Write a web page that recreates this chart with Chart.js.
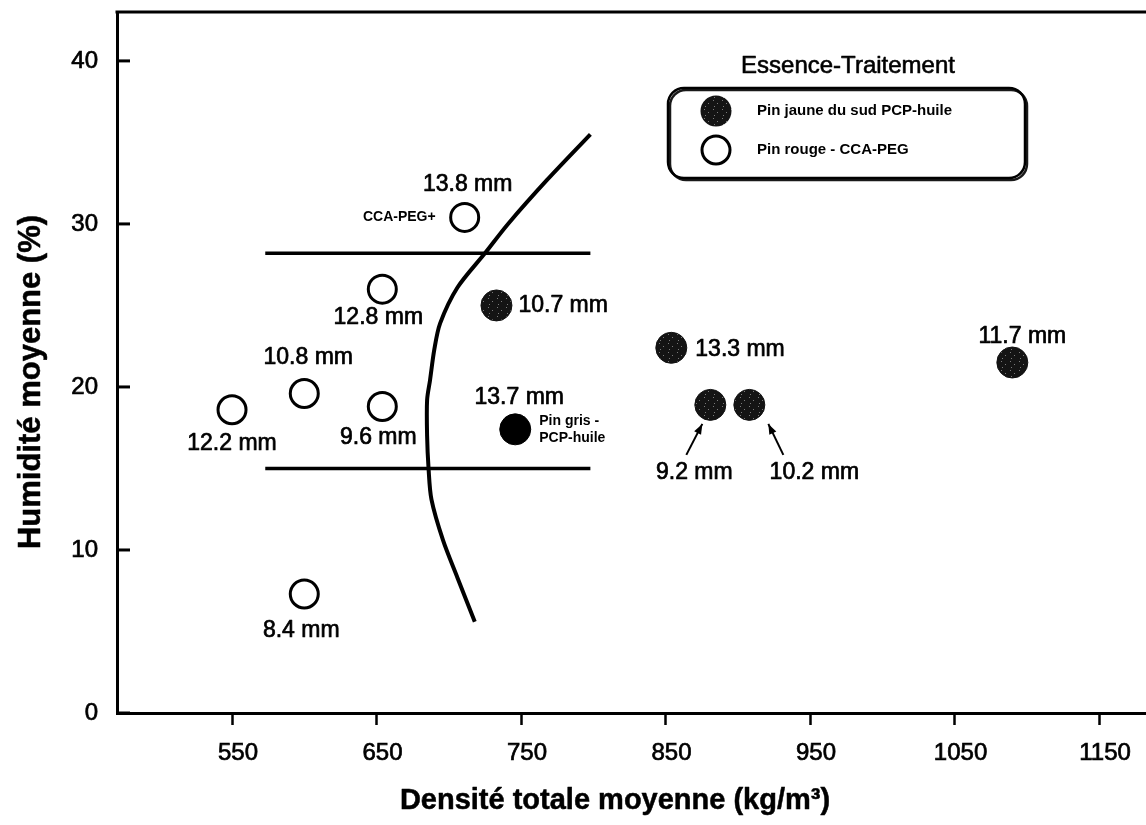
<!DOCTYPE html>
<html>
<head>
<meta charset="utf-8">
<script src="https://cdn.jsdelivr.net/npm/chart.js@4.4.1/dist/chart.umd.min.js"></script>
<style>
  html, body { margin: 0; padding: 0; background: #fff; }
  #wrap { width: 1146px; height: 825px; position: relative; }
</style>
</head>
<body>
<div id="wrap"><canvas id="graphique" width="1146" height="825"></canvas></div>
<script>
const FONT = '"Liberation Sans", Arial, Helvetica, sans-serif';

// Pin rouge - CCA-PEG : densité totale moyenne (kg/m³), humidité moyenne (%), diamètre
const pinRougeDensite  = [550, 600, 654, 654, 711, 600];
const pinRougeHumidite = [18.6, 19.6, 18.8, 26.0, 30.4, 7.3];
const pinRougeDiametre = ['12.2 mm', '10.8 mm', '9.6 mm', '12.8 mm', '13.8 mm', '8.4 mm'];

// Pin jaune du sud PCP-huile
const pinJauneDensite  = [733, 854, 881, 908, 1090];
const pinJauneHumidite = [25.0, 22.4, 18.9, 18.9, 21.5];
const pinJauneDiametre = ['10.7 mm', '13.3 mm', '9.2 mm', '10.2 mm', '11.7 mm'];

// Pin gris - PCP-huile
const pinGrisDensite  = [746];
const pinGrisHumidite = [17.4];
const pinGrisDiametre = ['13.7 mm'];

// Frontière courbe (de haut en bas)
const courbeDensite  = [798, 768, 741, 725, 706, 694, 690, 687, 685, 685, 686, 688, 696, 706, 718];
const courbeHumidite = [35.5, 32.7, 30.0, 28.2, 26.1, 23.9, 22.3, 20.4, 19.2, 17.0, 15.0, 13.1, 10.6, 8.3, 5.6];

// Seuils horizontaux d'humidité
const seuilDensite  = [573, 798];
const seuilHumidite = [28.2, 15.0];

const xTicks = [550, 650, 750, 850, 950, 1050, 1150];
const yTicks = [0, 10, 20, 30, 40];

// Placement des étiquettes (décalages en pixels par rapport au point)
const placeRouge = [
  { dx: 0,  dy: 34,  align: 'center' },
  { dx: 4,  dy: -36, align: 'center' },
  { dx: -4, dy: 31,  align: 'center' },
  { dx: -4, dy: 29,  align: 'center' },
  { dx: 3,  dy: -33, align: 'center' },
  { dx: -3, dy: 37,  align: 'center' }
];
const placeJaune = [
  { dx: 22,  dy: 0,  align: 'left' },
  { dx: 24,  dy: 2,  align: 'left' },
  { dx: -16, dy: 68, align: 'center', fleche: [-24, 50, -8, 19] },
  { dx: 65,  dy: 68, align: 'center', fleche: [34, 50, 19, 19] },
  { dx: 10,  dy: -26, align: 'center' }
];
const placeGris = [{ dx: 4, dy: -32, align: 'center' }];

const pts = (xs, ys) => xs.map((x, i) => ({ x: x, y: ys[i] }));

// Remplissage tacheté des cercles pleins
function motifTachete(ctx) {
  const c = document.createElement('canvas');
  c.width = 9; c.height = 9;
  const g = c.getContext('2d');
  g.fillStyle = '#141414';
  g.fillRect(0, 0, 9, 9);
  g.fillStyle = '#7a7a7a';
  g.fillRect(2, 1, 1, 1);
  g.fillRect(6, 4, 1, 1);
  g.fillRect(3, 7, 1, 1);
  return ctx.createPattern(c, 'repeat');
}

const canvas = document.getElementById('graphique');
const ctx = canvas.getContext('2d');
const tachete = motifTachete(ctx);

Chart.defaults.font.family = FONT;
Chart.defaults.color = '#000';

// texte légèrement épaissi
function texte(c, s, x, y, trait) {
  c.fillText(s, x, y);
  if (trait) {
    c.lineWidth = trait;
    c.strokeText(s, x, y);
  }
}

const decor = {
  id: 'decor',
  afterDraw(chart) {
    const c = chart.ctx;
    const a = chart.chartArea;
    const ys = chart.scales.y;
    c.save();
    c.strokeStyle = '#000';
    c.fillStyle = '#000';
    c.lineJoin = 'round';
    // bord supérieur
    c.lineWidth = 3;
    c.beginPath();
    c.moveTo(a.left - 1.5, a.top);
    c.lineTo(chart.width, a.top);
    c.stroke();
    // graduations de l'axe des y (vers l'intérieur)
    c.lineWidth = 3;
    yTicks.forEach(v => {
      const p = ys.getPixelForValue(v);
      c.beginPath();
      c.moveTo(a.left, p);
      c.lineTo(a.left + 13, p);
      c.stroke();
    });

    // étiquettes des diamètres
    const etiquettes = (idx, textes, places) => {
      const meta = chart.getDatasetMeta(idx);
      meta.data.forEach((el, i) => {
        const pl = places[i];
        c.font = '23px ' + FONT;
        c.textAlign = pl.align;
        c.textBaseline = 'middle';
        texte(c, textes[i], el.x + pl.dx, el.y + pl.dy, 0.7);
        if (pl.fleche) {
          const [x0, y0, x1, y1] = pl.fleche;
          const sx = el.x + x0, sy = el.y + y0, ex = el.x + x1, ey = el.y + y1;
          c.lineWidth = 2;
          c.beginPath();
          c.moveTo(sx, sy);
          c.lineTo(ex, ey);
          c.stroke();
          const ang = Math.atan2(ey - sy, ex - sx);
          const L = 11, w = 0.36;
          c.beginPath();
          c.moveTo(ex, ey);
          c.lineTo(ex - L * Math.cos(ang - w), ey - L * Math.sin(ang - w));
          c.lineTo(ex - L * Math.cos(ang + w), ey - L * Math.sin(ang + w));
          c.closePath();
          c.fill();
        }
      });
    };
    etiquettes(0, pinRougeDiametre, placeRouge);
    etiquettes(1, pinJauneDiametre, placeJaune);
    etiquettes(2, pinGrisDiametre, placeGris);

    // mentions en petits caractères gras
    c.font = 'bold 14px ' + FONT;
    c.textBaseline = 'middle';
    const plus = chart.getDatasetMeta(0).data[4];
    c.textAlign = 'right';
    c.fillText('CCA-PEG+', plus.x - 29, plus.y);
    const gris = chart.getDatasetMeta(2).data[0];
    c.textAlign = 'left';
    c.fillText('Pin gris -', gris.x + 24, gris.y - 8);
    c.fillText('PCP-huile', gris.x + 24, gris.y + 9);

    // légende
    c.font = '24px ' + FONT;
    c.textAlign = 'center';
    texte(c, 'Essence-Traitement', 848, 66, 0.6);
    c.save();
    c.shadowColor = 'rgba(0,0,0,0.9)';
    c.shadowOffsetX = 2;
    c.shadowOffsetY = 2;
    c.shadowBlur = 0;
    c.lineWidth = 2.5;
    c.beginPath();
    c.roundRect(668, 88, 357, 90, 16);
    c.stroke();
    c.restore();
    c.beginPath();
    c.arc(716, 111, 15.5, 0, Math.PI * 2);
    c.fillStyle = tachete;
    c.fill();
    c.fillStyle = '#000';
    c.lineWidth = 3;
    c.beginPath();
    c.arc(716, 150, 14, 0, Math.PI * 2);
    c.stroke();
    c.font = 'bold 15px ' + FONT;
    c.textAlign = 'left';
    c.fillText('Pin jaune du sud PCP-huile', 757, 111);
    c.fillText('Pin rouge - CCA-PEG', 757, 150);

    // titres des axes
    c.font = 'bold 29px ' + FONT;
    c.textAlign = 'center';
    texte(c, 'Densité totale moyenne (kg/m³)', 615, 801, 0.5);
    c.save();
    c.font = 'bold 31px ' + FONT;
    c.translate(31, 382);
    c.rotate(-Math.PI / 2);
    texte(c, 'Humidité moyenne (%)', 0, 0, 0.5);
    c.restore();
    c.restore();
  }
};

new Chart(ctx, {
  type: 'scatter',
  data: {
    datasets: [
      {
        label: 'Pin rouge - CCA-PEG',
        data: pts(pinRougeDensite, pinRougeHumidite),
        pointRadius: 14,
        pointBorderWidth: 3,
        borderColor: '#000',
        backgroundColor: '#fff'
      },
      {
        label: 'Pin jaune du sud PCP-huile',
        data: pts(pinJauneDensite, pinJauneHumidite),
        pointRadius: 15.5,
        pointBorderWidth: 1,
        borderColor: '#111',
        backgroundColor: tachete
      },
      {
        label: 'Pin gris - PCP-huile',
        data: pts(pinGrisDensite, pinGrisHumidite),
        pointRadius: 15.5,
        pointBorderWidth: 1,
        borderColor: '#000',
        backgroundColor: '#000'
      },
      {
        label: 'courbe',
        data: pts(courbeDensite, courbeHumidite),
        showLine: true,
        tension: 0.3,
        borderColor: '#000',
        borderWidth: 4,
        pointRadius: 0
      },
      {
        label: 'seuil haut',
        data: pts(seuilDensite, [seuilHumidite[0], seuilHumidite[0]]),
        showLine: true,
        borderColor: '#000',
        borderWidth: 3.5,
        pointRadius: 0
      },
      {
        label: 'seuil bas',
        data: pts(seuilDensite, [seuilHumidite[1], seuilHumidite[1]]),
        showLine: true,
        borderColor: '#000',
        borderWidth: 3.5,
        pointRadius: 0
      }
    ]
  },
  options: {
    responsive: false,
    animation: false,
    events: [],
    layout: { autoPadding: false, padding: { top: 12, right: 0, left: 0, bottom: 0 } },
    plugins: { legend: { display: false }, tooltip: { enabled: false } },
    scales: {
      x: {
        type: 'linear',
        min: 470.4,
        max: 1182.5,
        afterBuildTicks: s => { s.ticks = xTicks.map(v => ({ value: v })); },
        afterFit: s => { s.height = 112; s.paddingLeft = 0; s.paddingRight = 0; },
        border: { display: true, color: '#000', width: 3 },
        grid: {
          display: true,
          drawOnChartArea: false,
          drawTicks: true,
          tickLength: 12,
          tickWidth: 2.5,
          tickColor: '#000'
        },
        ticks: {
          font: { size: 24 }, color: '#000', padding: 14, maxRotation: 0,
          labelOffset: 6,
          textStrokeColor: '#000', textStrokeWidth: 0.7,
          callback: v => String(v)
        }
      },
      y: {
        type: 'linear',
        min: 0,
        max: 43.0,
        afterBuildTicks: s => { s.ticks = yTicks.map(v => ({ value: v })); },
        afterFit: s => { s.width = 117; s.paddingTop = 0; s.paddingBottom = 0; },
        border: { display: true, color: '#000', width: 3 },
        grid: { display: false },
        ticks: {
          font: { size: 24 }, color: '#000', padding: 11,
          textStrokeColor: '#000', textStrokeWidth: 0.7,
          callback: v => String(v)
        }
      }
    }
  },
  plugins: [decor]
});
</script>
</body>
</html>
